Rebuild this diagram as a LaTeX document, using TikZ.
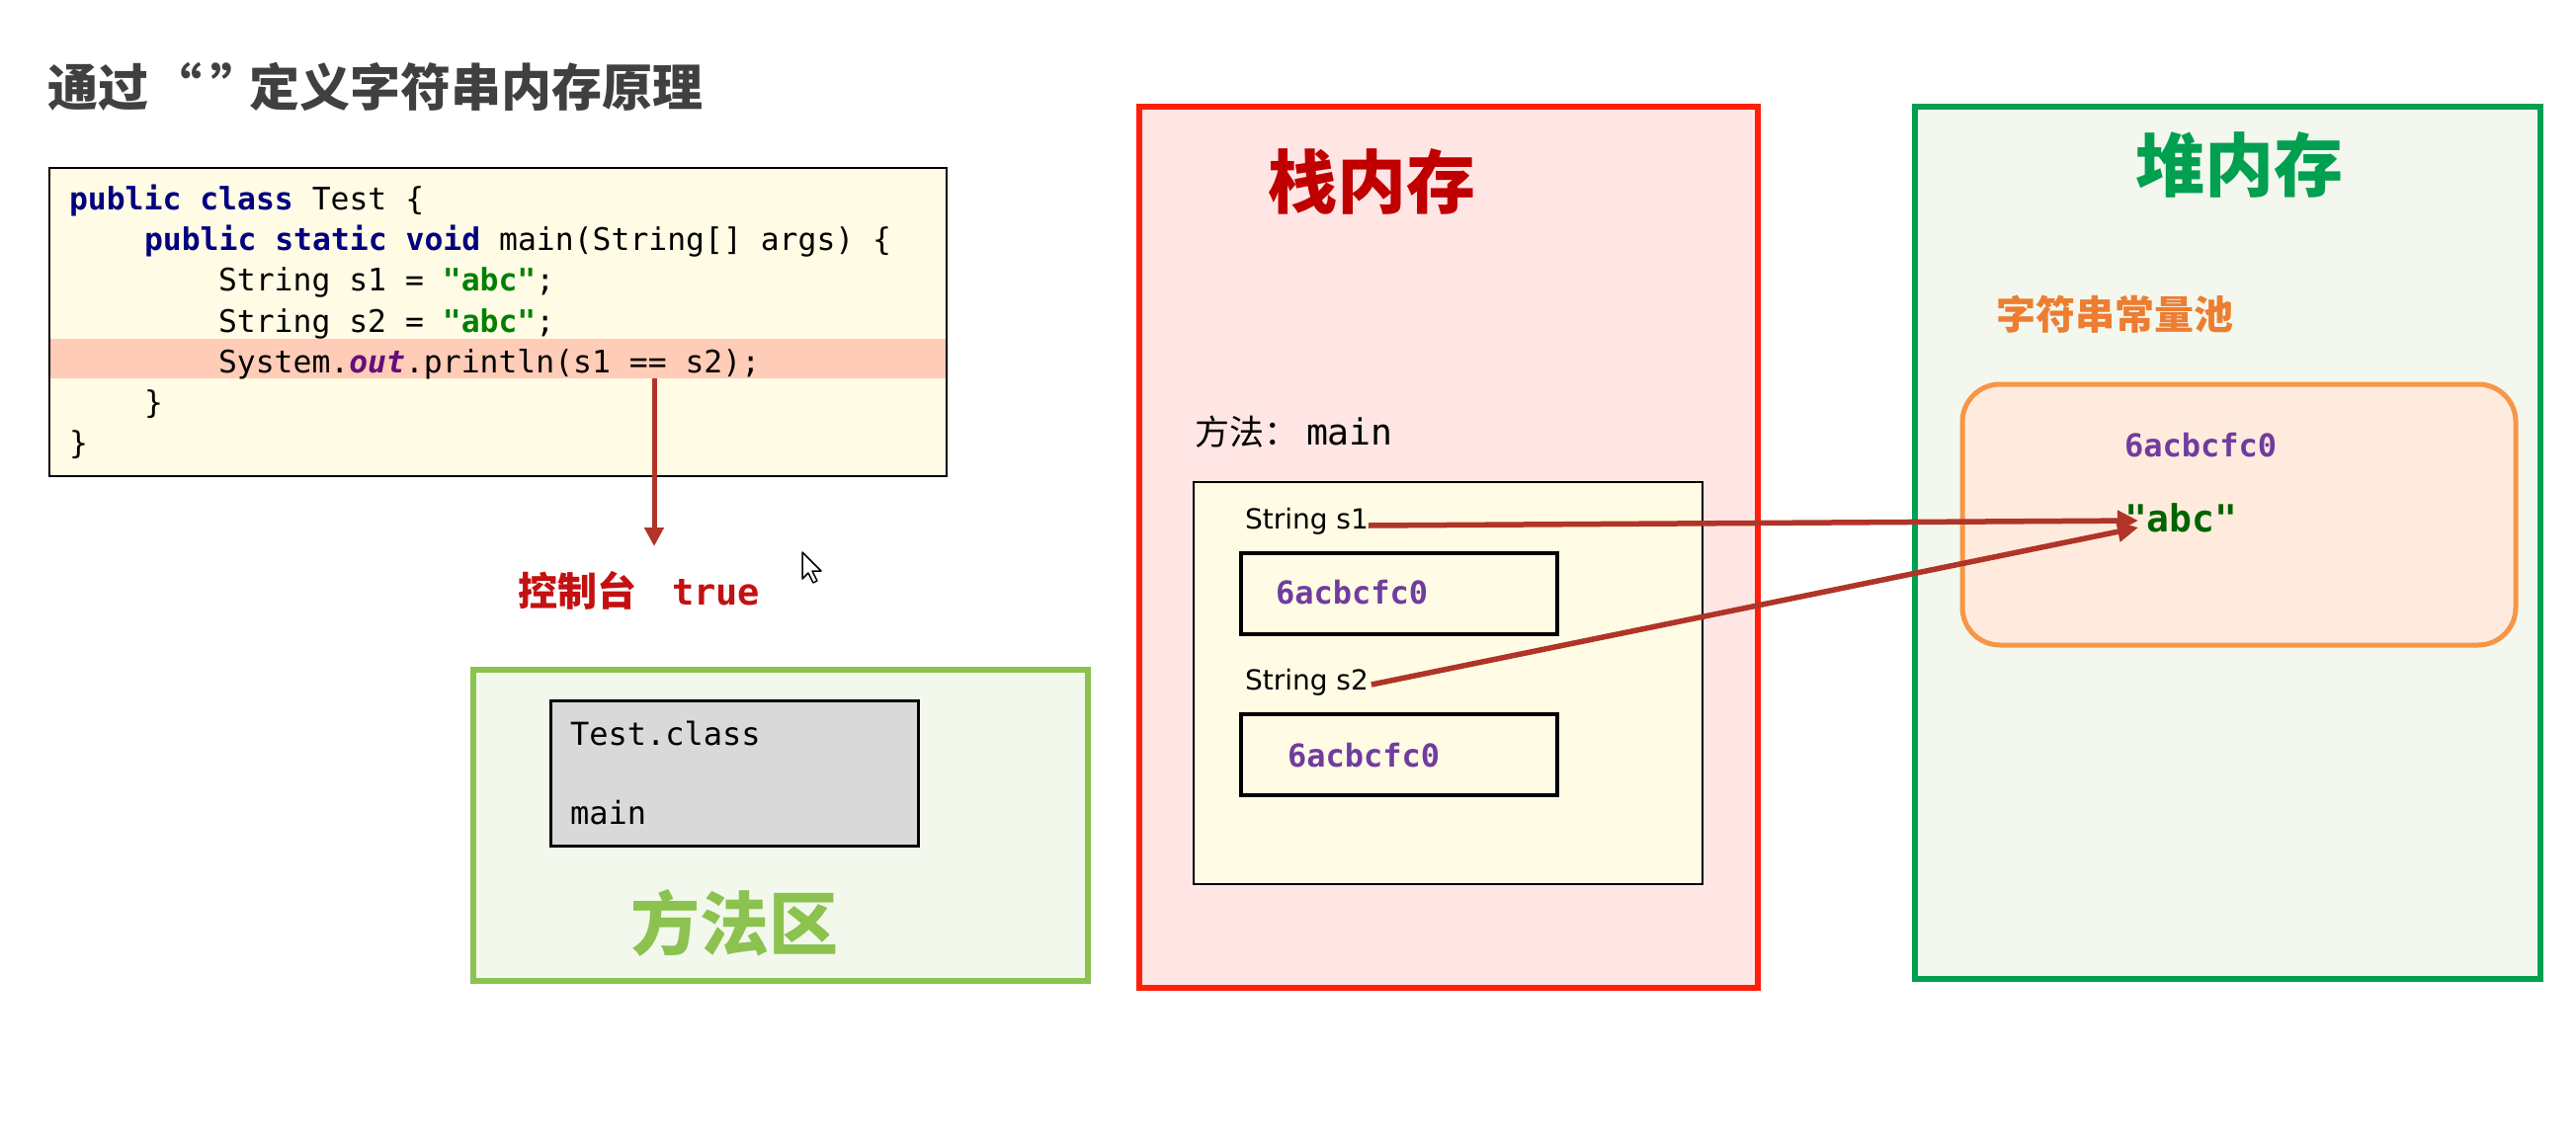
\documentclass[tikz,border=0pt]{standalone}
\usepackage{fontspec}
\setmonofont{DejaVu Sans Mono}
\newfontfamily\cjk{Noto Sans CJK SC}
\newfontfamily\dvs{DejaVu Sans}
\usetikzlibrary{arrows.meta}
\definecolor{titlegray}{RGB}{64,64,64}
\definecolor{codebg}{RGB}{255,251,229}
\definecolor{hlc}{RGB}{255,204,183}
\definecolor{kw}{RGB}{0,0,128}
\definecolor{strg}{RGB}{0,128,0}
\definecolor{outc}{RGB}{102,14,122}
\definecolor{conred}{RGB}{196,16,16}
\definecolor{arrowred}{RGB}{176,52,40}
\definecolor{limeg}{RGB}{140,194,80}
\definecolor{limebg}{RGB}{243,248,237}
\definecolor{grayfill}{RGB}{217,217,217}
\definecolor{stackred}{RGB}{255,30,10}
\definecolor{stackbg}{RGB}{255,230,228}
\definecolor{darkred}{RGB}{192,0,0}
\definecolor{heapg}{RGB}{0,160,80}
\definecolor{heapbg}{RGB}{243,247,238}
\definecolor{orangeb}{RGB}{247,150,70}
\definecolor{orangebg}{RGB}{255,235,221}
\definecolor{orangetxt}{RGB}{237,125,49}
\definecolor{addrpurple}{RGB}{112,60,160}
\definecolor{abcgreen}{RGB}{0,100,0}
\begin{document}
\begin{tikzpicture}[x=1pt,y=-1pt,
  boxn/.style={rectangle,inner sep=0pt,outer sep=0pt,anchor=center},
  txt/.style={inner sep=0pt,outer sep=0pt},
  codeln/.style={txt,anchor=base west,font=\fontsize{31.4}{37}\selectfont\ttfamily},
  addr/.style={txt,anchor=west,font=\fontsize{32}{38}\selectfont\ttfamily\bfseries,text=addrpurple},
  strv/.style={txt,anchor=west,font=\fontsize{28}{33}\selectfont\dvs},
  bigcjk/.style={txt,font=\fontsize{70}{80}\selectfont\cjk\bfseries},
  conn/.style={draw=arrowred,line width=5.5pt,-{Triangle[length=21pt,width=20pt]}},
  conn2/.style={draw=arrowred,line width=5pt,-{Triangle[length=19pt,width=19pt]}}
]
\useasboundingbox (0,0) rectangle (2607,1151);
\fill[white] (0,0) rectangle (2607,1151);

% title
\node[txt,anchor=west,font=\fontsize{51}{60}\selectfont\cjk\bfseries,text=titlegray] (title) at (48,88) {通过\hspace{4pt}“\hspace{9pt}”\hspace{-13pt}定义字符串内存原理};

% code box
\node[boxn,draw=black,line width=2pt,fill=codebg,minimum width=908pt,minimum height=312pt] (code) at (504,326) {};
\node[boxn,fill=hlc,minimum width=906pt,minimum height=40pt] (hl) at (504,363) {};
\node[codeln] (c1) at (70,212) {\textcolor{kw}{\bfseries public class} Test \{};
\node[codeln] (c2) at (146,253) {\textcolor{kw}{\bfseries public static void} main(String[] args) \{};
\node[codeln] (c3) at (221,294) {String s1 = \textcolor{strg}{\bfseries "abc"};};
\node[codeln] (c4) at (221,336) {String s2 = \textcolor{strg}{\bfseries "abc"};};
\node[codeln] (c5) at (221,377) {System.\textcolor{outc}{\bfseries\itshape out}.println(s1 == s2);};
\node[codeln] (c6) at (146,418) {\}};
\node[codeln] (c7) at (70,459) {\}};

% console
\coordinate (pa) at (662,383);
\coordinate (pb) at (662,553);
\draw[conn2] (pa) -- (pb);
\node[txt,font=\fontsize{40}{48}\selectfont\cjk\bfseries,text=conred] (console) at (584,598) {控制台};
\node[txt,anchor=west,font=\fontsize{37}{44}\selectfont\ttfamily\bfseries,text=conred] (true) at (680,600) {true};

% mouse cursor
\draw[fill=white,line width=1.5pt,line join=round] (812,559) -- ++(0,27) -- ++(6,-6) -- ++(5,10) -- ++(4,-2) -- ++(-5,-10) -- ++(9,0) -- cycle;

% method area
\node[boxn,draw=limeg,line width=6pt,fill=limebg,minimum width=622pt,minimum height=315pt] (marea) at (790,835.5) {};
\node[boxn,draw=black,line width=3pt,fill=grayfill,minimum width=372pt,minimum height=147pt] (cls) at (743,782.5) {};
\node[txt,anchor=west,font=\fontsize{32}{38}\selectfont\ttfamily] (testclass) at (577,742) {Test.class};
\node[txt,anchor=west,font=\fontsize{32}{38}\selectfont\ttfamily] (mainm) at (577,823) {main};
\node[bigcjk,text=limeg] (mareat) at (743,934) {方法区};

% stack
\node[boxn,draw=stackred,line width=6.5pt,fill=stackbg,minimum width=626pt,minimum height=892pt] (stack) at (1466,554) {};
\node[bigcjk,text=darkred] (stackt) at (1388,184) {栈内存};
\node[txt,anchor=base west,font=\fontsize{35}{42}\selectfont] (meth) at (1209,450) {{\cjk 方法：}\hspace{8pt}{\fontsize{36.5}{42}\selectfont\ttfamily main}};
\node[boxn,draw=black,line width=2pt,fill=codebg,minimum width=515pt,minimum height=407pt] (frame) at (1465,691.5) {};
\node[strv] (s1) at (1260,528) {String s1};
\node[boxn,draw=black,line width=4pt,minimum width=320pt,minimum height=82pt] (box1) at (1416,601) {};
\node[addr] (a1) at (1291,600) {6acbcfc0};
\node[strv] (s2) at (1260,691) {String s2};
\node[boxn,draw=black,line width=4pt,minimum width=320pt,minimum height=82pt] (box2) at (1416,764) {};
\node[addr] (a2) at (1303,765) {6acbcfc0};

% heap
\node[boxn,draw=heapg,line width=6pt,fill=heapbg,minimum width=633pt,minimum height=883pt] (heap) at (2254.5,549.5) {};
\node[bigcjk,text=heapg] (heapt) at (2266,167) {堆内存};
\node[txt,font=\fontsize{40}{48}\selectfont\cjk\bfseries,text=orangetxt] (poolt) at (2140,318) {字符串常量池};
\node[boxn,draw=orangeb,line width=5pt,fill=orangebg,rounded corners=38pt,minimum width=560pt,minimum height=264pt] (pool) at (2266,521) {};
\node[addr] (a3) at (2150,451) {6acbcfc0};
\node[txt,anchor=west,font=\fontsize{38}{44}\selectfont\ttfamily\bfseries,text=abcgreen] (abc) at (2150,524) {"abc"};

% references
\coordinate (t1) at (2164,527);
\coordinate (t2) at (2164,534);
\draw[conn] ([yshift=-4pt]s1.east) -- (t1);
\draw[conn] ([yshift=-2pt,xshift=3pt]s2.east) -- (t2);
\end{tikzpicture}
\end{document}
